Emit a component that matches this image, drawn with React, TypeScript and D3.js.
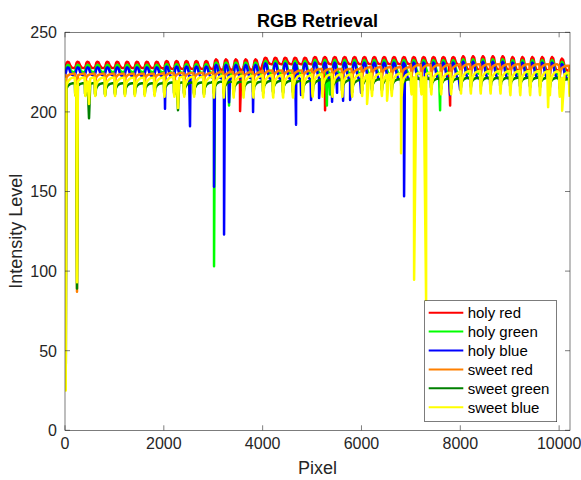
import React from "react";
import * as d3 from "d3";

// axis limits and ticks
const xMax = 10220;
const xTicks = [0, 2000, 4000, 6000, 8000, 10000];
const yTicks = [0, 50, 100, 150, 200, 250];

// oscillation period (in pixels of the image row) and level segments
const period = 200;
const segmentSize = 1000;

// one cycle of each group: [phase, fraction between low and high]
const holyShape: [number, number][] = [
  [0, 0], [0.08, 0.3], [0.18, 0.85], [0.28, 1], [0.4, 0.9], [0.55, 0.35], [0.7, 0.05], [0.85, 0],
];
const sweetShape: [number, number][] = [
  [0, 1], [0.03, 0.15], [0.07, 0], [0.14, 0.55], [0.3, 0.8], [0.55, 0.95], [0.8, 1],
];

// levels read every 1000 px
const holyRedHigh = [231.5, 231.5, 232, 233, 234, 234.5, 234.5, 234.5, 235, 234.5, 233.5];
const holyRedLow = [227.5, 227.5, 227, 226.5, 230, 230, 230, 229.5, 226.5, 226, 226];
const holyGreenHigh = [229.5, 229.5, 230, 231, 232, 232.5, 232.5, 232.5, 233, 232.5, 231.5];
const holyGreenLow = [225, 225, 224.5, 224, 224, 224, 224, 224, 224, 223.5, 223];
const holyBlueHigh = [228, 228, 228.5, 229.5, 230.5, 231, 231, 231, 231.5, 231, 230];
const holyBlueLow = [223, 222.5, 222, 221, 220.5, 220.5, 220.5, 220.5, 221, 221.5, 221];
const sweetRedHigh = [224, 224, 224.5, 225, 226, 227, 228, 229.5, 230, 230, 229];
const sweetRedLow = [218.5, 218.5, 219, 219, 219.5, 220, 221, 222, 223, 223, 222.5];
const sweetGreenHigh = [218, 218, 218.5, 219, 219.5, 220, 220.5, 221, 221.5, 221.5, 220.5];
const sweetGreenLow = [210.5, 211, 211, 211.5, 212, 212.5, 213.5, 214.5, 215.5, 215.5, 214.5];
const sweetBlueHigh = [221.5, 221.5, 222, 222.5, 223, 223.5, 224, 224.5, 225.5, 225.5, 224.5];
const sweetBlueLow = [210, 210, 209.5, 209, 209, 209.5, 210, 211, 211.5, 210.5, 209.5];

// single-pixel drops [pixel, value]
const holyRedDips: [number, number][] = [[3543, 200.5], [5263, 201], [7794, 204]];
const holyGreenDips: [number, number][] = [[3016, 103], [3320, 204], [5300, 204], [5364, 211], [7591, 201]];
const holyBlueDips: [number, number][] = [
  [2024, 202], [2530, 191], [3016, 153], [3219, 123], [3320, 206], [3806, 200], [4676, 192],
  [4777, 210.6], [4980, 207.5], [5142, 208.7], [5405, 206.4], [5506, 212], [5628, 207],
  [5770, 207.5], [5992, 212], [6862, 147], [7287, 206.4], [7794, 210.6], [7996, 213.8],
];
const sweetRedDips: [number, number][] = [[15, 28], [243, 87]];
const sweetGreenDips: [number, number][] = [[15, 26], [243, 89], [486, 196], [2287, 201]];
const sweetBlueDips: [number, number][] = [
  [15, 25], [243, 93], [486, 205], [2287, 202.5], [6113, 205], [6518, 207], [6801, 174],
  [7065, 94.5], [7308, 80], [9777, 203], [10061, 200.7],
];

const seriesNames = ["holy red", "holy green", "holy blue", "sweet red", "sweet green", "sweet blue"];
const seriesColors = ["#ff0000", "#00ff00", "#0000ff", "#ff8000", "#008000", "#ffff00"];

function buildSeries(high: number[], low: number[], shape: [number, number][], dips: [number, number][]) {
  const pts: [number, number][] = [];
  for (let start = 0; start < xMax; start += period) {
    const seg = Math.min(Math.floor(start / segmentSize), high.length - 1);
    shape.forEach(([p, f]) => {
      const x = start + p * period;
      if (x <= xMax) pts.push([x, low[seg] + f * (high[seg] - low[seg])]);
    });
  }
  dips.forEach((d) => pts.push(d));
  pts.sort((a, b) => a[0] - b[0]);
  return pts;
}

const series = [
  buildSeries(holyRedHigh, holyRedLow, holyShape, holyRedDips),
  buildSeries(holyGreenHigh, holyGreenLow, holyShape, holyGreenDips),
  buildSeries(holyBlueHigh, holyBlueLow, holyShape, holyBlueDips),
  buildSeries(sweetRedHigh, sweetRedLow, sweetShape, sweetRedDips),
  buildSeries(sweetGreenHigh, sweetGreenLow, sweetShape, sweetGreenDips),
  buildSeries(sweetBlueHigh, sweetBlueLow, sweetShape, sweetBlueDips),
];

const W = 581;
const H = 480;
const left = 65;
const right = 570;
const top = 32.3;
const bottom = 430.3;
const font = "'Liberation Sans', Arial, Helvetica, sans-serif";
const axisColor = "#262626";

export default function App() {
  const x = d3.scaleLinear().domain([0, xMax]).range([left, right]);
  const y = d3.scaleLinear().domain([0, 250]).range([bottom, top]);
  const line = d3.line<[number, number]>().x((d) => x(d[0])).y((d) => y(d[1]));

  const legX = 424.7;
  const legY = 300.7;
  const legW = 132;
  const legH = 121;
  const rowH = 18.9;

  return (
    <svg width={W} height={H} style={{ position: "absolute", left: 0, top: 0, background: "#fff" }} fontFamily={font}>
      <defs>
        <clipPath id="plot">
          <rect x={left} y={top} width={right - left} height={bottom - top} />
        </clipPath>
      </defs>
      <rect x={0} y={0} width={W} height={H} fill="#fff" />

      <g clipPath="url(#plot)">
        {series.map((s, i) => (
          <path key={i} d={line(s) || ""} fill="none" stroke={seriesColors[i]} strokeWidth={2.5} strokeLinejoin="round" />
        ))}
      </g>

      {/* box and ticks */}
      <rect x={left} y={top} width={right - left} height={bottom - top} fill="none" stroke={axisColor} strokeWidth={0.6} />
      {xTicks.map((t) => (
        <g key={"x" + t}>
          <line x1={x(t)} x2={x(t)} y1={bottom} y2={bottom - 5} stroke={axisColor} strokeWidth={0.6} />
          <line x1={x(t)} x2={x(t)} y1={top} y2={top + 5} stroke={axisColor} strokeWidth={0.6} />
          <text x={x(t)} y={448.5} textAnchor="middle" fontSize={16} fill={axisColor}>{t}</text>
        </g>
      ))}
      {yTicks.map((t) => (
        <g key={"y" + t}>
          <line x1={left} x2={left + 5} y1={y(t)} y2={y(t)} stroke={axisColor} strokeWidth={0.6} />
          <line x1={right} x2={right - 5} y1={y(t)} y2={y(t)} stroke={axisColor} strokeWidth={0.6} />
          <text x={57} y={y(t) + 5.8} textAnchor="end" fontSize={16} fill={axisColor}>{t}</text>
        </g>
      ))}

      <text x={(left + right) / 2} y={27} textAnchor="middle" fontSize={18} fontWeight="bold" fill="#000">RGB Retrieval</text>
      <text x={(left + right) / 2} y={474} textAnchor="middle" fontSize={18} fill={axisColor}>Pixel</text>
      <text transform={`translate(22,${(top + bottom) / 2}) rotate(-90)`} textAnchor="middle" fontSize={18} fill={axisColor}>Intensity Level</text>

      {/* legend */}
      <rect x={legX} y={legY} width={legW} height={legH} fill="#fff" stroke={axisColor} strokeWidth={0.6} />
      {seriesNames.map((n, i) => {
        const ly = legY + 12 + i * rowH;
        return (
          <g key={n}>
            <line x1={legX + 4} x2={legX + 38.6} y1={ly} y2={ly} stroke={seriesColors[i]} strokeWidth={2} />
            <text x={legX + 43} y={ly + 5.3} fontSize={15} fill="#000">{n}</text>
          </g>
        );
      })}
    </svg>
  );
}
